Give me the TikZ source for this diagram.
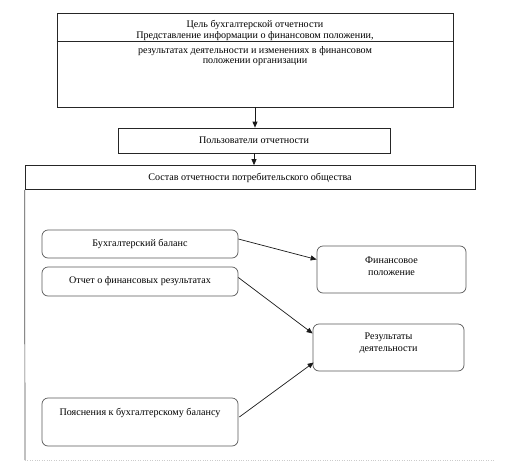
\documentclass[tikz,border=0pt]{standalone}
\usepackage{fontspec}
\setmainfont{Liberation Serif}
\usetikzlibrary{arrows.meta,calc}
\begin{document}
\begin{tikzpicture}[x=1pt,y=-1pt,
  every node/.style={font=\rmfamily\fontsize{10.1}{12}\selectfont, inner sep=0pt},
  sqbox/.style={draw=black!85, line width=0.7pt, rectangle},
  rbox/.style={draw=black!65, line width=0.7pt, rectangle, rounded corners=6pt},
  txt/.style={align=center, text=black},
  arr/.style={-{Triangle[length=6pt,width=5pt]}, line width=0.7pt, draw=black!90}
]
\useasboundingbox (0,0) rectangle (528,461);
% top box
\node[sqbox, minimum width=396pt, minimum height=94pt] (cel) at (255,60) {};
\draw[black!85, line width=0.7pt] ($(cel.north west)+(0,29)$) coordinate (hl) -- ($(cel.north east)+(1,29)$) coordinate (hr);
\node[txt] (t1) at (255,25) {Цель бухгалтерской отчетности};
\node[txt] (t2) at (255,36.5) {Представление информации о финансовом положении,};
\node[txt] (t3) at (255,51.5) {результатах деятельности и изменениях в финансовом};
\node[txt] (t4) at (255,62.5) {положении организации};
% users
\node[sqbox, minimum width=272pt, minimum height=25pt] (users) at (254,140.5) {Пользователи отчетности};
% composition
\node[sqbox, minimum width=450pt, minimum height=24pt] (sostav) at (250,177.5) {Состав отчетности потребительского общества};
\coordinate (cbot) at (25,460);
\draw[black!70, line width=0.7pt] (sostav.south west) -- (cbot);
\draw[black!20, line width=0.4pt, dotted] (cbot) -- (495,460);
% left boxes
\node[rbox, minimum width=196pt, minimum height=28pt] (bux) at (140,244) {Бухгалтерский баланс};
\node[rbox, minimum width=196pt, minimum height=29pt] (otch) at (140,281.5) {Отчет о финансовых результатах};
\node[rbox, minimum width=196pt, minimum height=48pt] (poy) at (140,422) {};
\node[txt] (poyt) at (140,413) {Пояснения к бухгалтерскому балансу};
% right boxes
\node[rbox, minimum width=149pt, minimum height=47pt] (fin) at (391.5,269.5) {};
\node[txt] (fint) at (391.5,266) {Финансовое\\положение};
\node[rbox, minimum width=151pt, minimum height=47pt] (rez) at (388.5,347.5) {};
\node[txt] (rezt) at (388.5,343) {Результаты\\деятельности};
% arrows
\draw[arr] (cel.south) -- (cel.south |- users.north);
\draw[arr] (users.south) -- (users.south |- sostav.north);
\draw[arr] ($(bux.east)+(0,-5)$) -- ($(fin.west)+(0,-10)$);
\draw[arr] ($(otch.east)+(0,-4)$) -- ($(rez.west)+(0,-14)$);
\draw[arr] ($(poy.east)+(1,-5)$) -- ($(rez.west)+(1,15)$);
\end{tikzpicture}
\end{document}
